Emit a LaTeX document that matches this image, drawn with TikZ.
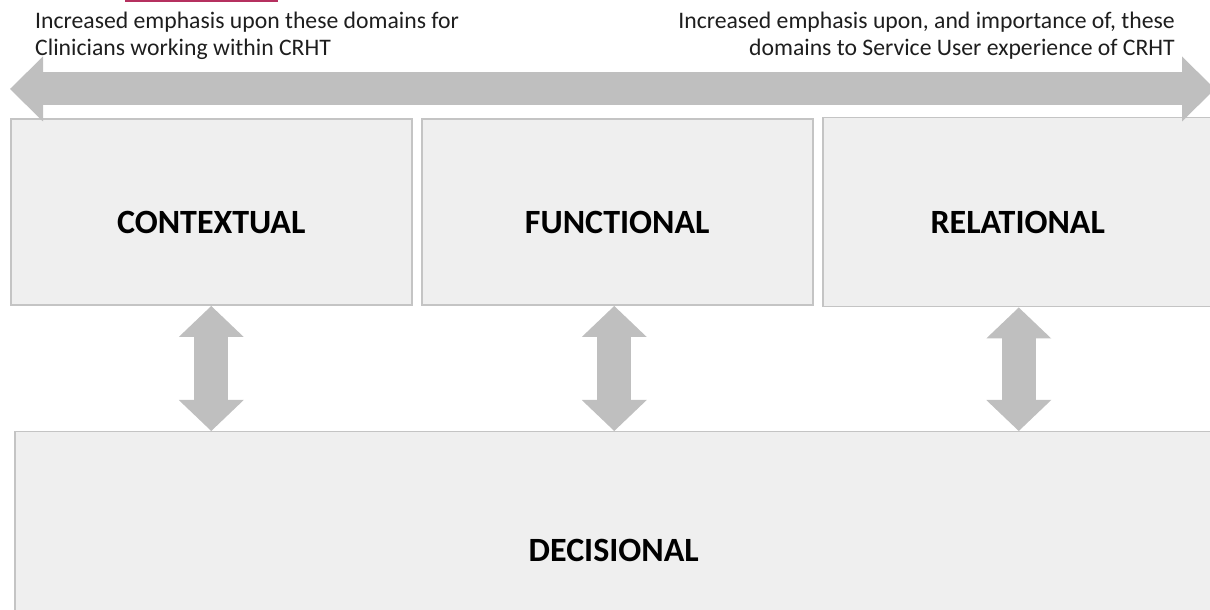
\documentclass[tikz,border=0pt]{standalone}
\usepackage{fontspec}
\setmainfont{Carlito}
\usetikzlibrary{positioning, arrows.meta}
\definecolor{boxFill}{HTML}{EFEFEF}
\definecolor{boxLine}{HTML}{C4C4C4}
\definecolor{arrowFill}{HTML}{BFBFBF}
\definecolor{noteText}{HTML}{1E1E1E}
\definecolor{topBar}{HTML}{B5305F}
\tikzset{
    Domain/.style = {
        draw=boxLine, fill=boxFill, line width=1.5pt,
        minimum height=186pt, inner sep=0pt,
        text height=42pt, text depth=0pt,
        font=\fontsize{34}{40}\selectfont\bfseries
    },
    BigArrow/.style = {
        draw=arrowFill, line width=33pt,
        {Triangle[width=65pt, length=33pt, line width=0pt]}-{Triangle[width=65pt, length=33pt, line width=0pt]}
    },
    Link/.style = {
        draw=arrowFill, line width=34pt,
        {Triangle[width=65pt, length=31pt, line width=0pt]}-{Triangle[width=65pt, length=31pt, line width=0pt]}
    },
    Note/.style = {
        font=\fontsize{23.7}{27}\selectfont, text=noteText, inner sep=0pt
    }
}

\begin{document}
\begin{tikzpicture}[x=1pt, y=1pt]
    \useasboundingbox (0,0) rectangle (1210,610);
    \fill[topBar] (125,607.5) rectangle (278,610);
    \node[Note, anchor=north west, align=left] (NL) at (35,598) {Increased emphasis upon these domains for\\Clinicians working within CRHT};
    \node[Note, anchor=north east, align=right] (NR) at (1175,598) {Increased emphasis upon, and importance of, these\\domains to Service User experience of CRHT};
    % domains
    \node[Domain, minimum width=401pt, anchor=south west] (C) at (10,304) {CONTEXTUAL};
    \node[Domain, minimum width=391pt, right=8.5pt of C] (F) {FUNCTIONAL};
    \node[Domain, minimum width=390pt, minimum height=189pt, right=8.5pt of F] (R) {RELATIONAL};
    \node[Domain, minimum width=1198pt, minimum height=218pt, anchor=north west] (D) at (14,179) {DECISIONAL};
    % emphasis arrow
    \coordinate (Lend) at (10,521);
    \coordinate (Rend) at (1215,521);
    \draw[BigArrow] (Lend) -- (Rend);
    % links to decisional
    \foreach \n/\dx in {C/0, F/-3, R/1}
        \draw[Link] ([xshift=\dx pt]\n.south) -- ([xshift=\dx pt]\n.south |- D.north);
\end{tikzpicture}
\end{document}
